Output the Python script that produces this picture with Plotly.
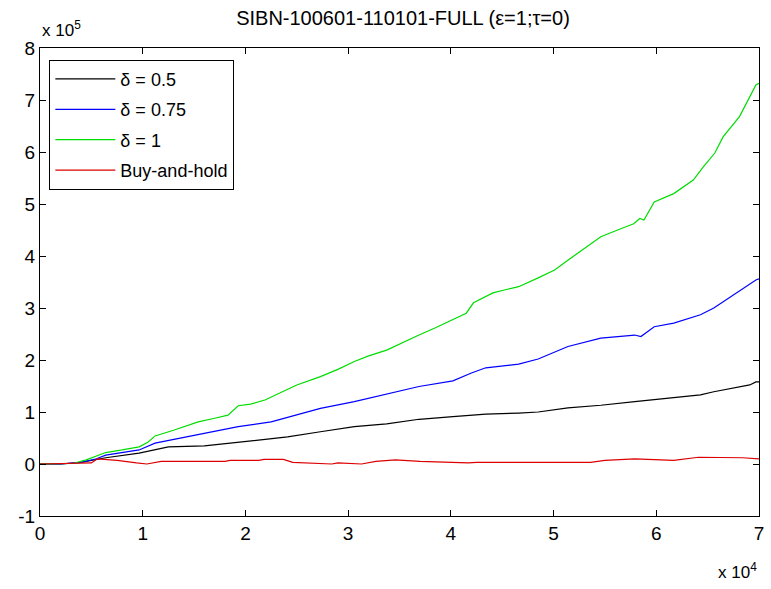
import plotly.graph_objects as go

# x in units of 1e4, y in units of 1e5
green_x = [0, 0.2, 0.32, 0.45, 0.55, 0.64, 0.8, 0.965, 1.05, 1.12, 1.3, 1.54, 1.7, 1.83, 1.93, 2.05, 2.19,
           2.35, 2.5, 2.73, 2.9, 3.06, 3.2, 3.375, 3.55, 3.69, 3.85, 4.02, 4.15, 4.22, 4.41, 4.55, 4.66,
           4.85, 5.01, 5.14, 5.25, 5.33, 5.46, 5.66, 5.78, 5.84, 5.88, 5.98, 6.17, 6.36, 6.46, 6.57,
           6.65, 6.81, 6.91, 6.97, 7.0]
green_y = [0, 0, 0.01, 0.08, 0.15, 0.22, 0.27, 0.33, 0.42, 0.54, 0.65, 0.81, 0.88, 0.94, 1.12, 1.15, 1.23,
           1.38, 1.52, 1.68, 1.82, 1.97, 2.08, 2.19, 2.36, 2.48, 2.62, 2.77, 2.9, 3.1, 3.29, 3.36, 3.41,
           3.58, 3.73, 3.92, 4.08, 4.18, 4.37, 4.53, 4.62, 4.72, 4.69, 5.04, 5.2, 5.46, 5.72, 5.98,
           6.29, 6.68, 7.06, 7.29, 7.32]

blue_x = [0, 0.2, 0.4, 0.55, 0.64, 0.965, 1.12, 1.54, 1.93, 2.25, 2.5, 2.73, 3.06, 3.375, 3.69, 4.02,
          4.2, 4.34, 4.66, 4.85, 5.14, 5.46, 5.79, 5.85, 5.98, 6.17, 6.43, 6.56, 6.75, 6.88, 6.97, 7.0]
blue_y = [0, 0, 0.03, 0.1, 0.17, 0.27, 0.40, 0.56, 0.72, 0.81, 0.94, 1.07, 1.2, 1.35, 1.49, 1.6,
          1.75, 1.85, 1.92, 2.02, 2.26, 2.42, 2.48, 2.45, 2.64, 2.71, 2.87, 3.0, 3.25, 3.41, 3.54, 3.56]

black_x = [0, 0.2, 0.4, 0.64, 0.965, 1.25, 1.6, 1.93, 2.41, 2.73, 3.06, 3.375, 3.69, 4.02, 4.34, 4.66,
           4.85, 5.14, 5.46, 5.79, 5.95, 6.11, 6.43, 6.56, 6.75, 6.91, 6.97, 7.0]
black_y = [0, 0, 0.03, 0.12, 0.21, 0.33, 0.35, 0.42, 0.52, 0.62, 0.72, 0.77, 0.86, 0.91, 0.96, 0.98,
           1.0, 1.08, 1.13, 1.2, 1.23, 1.27, 1.33, 1.39, 1.46, 1.52, 1.58, 1.58]

red_x = [0, 0.23, 0.5, 0.56, 0.75, 0.94, 1.04, 1.18, 1.8, 1.85, 2.13, 2.18, 2.37, 2.46, 2.84, 2.9,
         3.13, 3.27, 3.46, 3.7, 4.17, 4.25, 5.36, 5.5, 5.79, 6.17, 6.41, 6.84, 7.0]
red_y = [0, 0.01, 0.02, 0.1, 0.07, 0.02, 0.0, 0.05, 0.05, 0.07, 0.07, 0.09, 0.09, 0.03, 0.0, 0.02,
         0.0, 0.05, 0.08, 0.05, 0.02, 0.03, 0.03, 0.07, 0.1, 0.07, 0.13, 0.12, 0.1]

x_ticks = [0, 1, 2, 3, 4, 5, 6, 7]
y_ticks = [-1, 0, 1, 2, 3, 4, 5, 6, 7, 8]

XS, YS = 1e4, 1e5

series = [
    ("δ = 0.5", black_x, black_y, "#000000"),
    ("δ = 0.75", blue_x, blue_y, "#0000ff"),
    ("δ = 1", green_x, green_y, "#00dd00"),
    ("Buy-and-hold", red_x, red_y, "#dd0000"),
]

fig = go.Figure()
for i, (name, xs, ys, col) in enumerate(series):
    fig.add_trace(go.Scatter(
        x=[v * XS for v in xs], y=[v * YS for v in ys], mode="lines", name=name,
        legendgroup=f"g{i}",
        line=dict(color=col, width=1.2, shape="linear"),
    ))

font = "Liberation Sans, Arial, sans-serif"
fig.update_layout(
    width=771, height=589,
    margin=dict(l=40, r=7, t=48, b=73),
    paper_bgcolor="white", plot_bgcolor="white",
    font=dict(family=font, size=17, color="black"),
    title=dict(text="SIBN-100601-110101-FULL (ε=1;τ=0)", x=403 / 771, xanchor="center",
               y=1 - 18 / 589, yanchor="middle", font=dict(size=20)),
    showlegend=True,
    legend=dict(x=0.013, y=0.975, xanchor="left", yanchor="top", bordercolor="black",
                borderwidth=1, bgcolor="white", font=dict(size=18), tracegroupgap=4,
                traceorder="grouped", itemwidth=60),
    xaxis=dict(range=[0, 7 * XS], tickvals=[v * XS for v in x_ticks], ticktext=[str(v) for v in x_ticks],
               ticks="inside", ticklen=6, tickcolor="black", showline=True, linecolor="black",
               linewidth=1, mirror="allticks", showgrid=False, zeroline=False,
               tickfont=dict(size=19)),
    yaxis=dict(range=[-1 * YS, 8 * YS], tickvals=[v * YS for v in y_ticks], ticktext=[str(v) for v in y_ticks],
               ticks="inside", ticklen=6, tickcolor="black", showline=True, linecolor="black",
               linewidth=1, mirror="allticks", showgrid=False, zeroline=False,
               tickfont=dict(size=19)),
    annotations=[
        dict(text="x 10<sup>5</sup>", xref="paper", yref="paper", x=0, y=1, xanchor="left",
             yanchor="bottom", yshift=6, showarrow=False, font=dict(size=17)),
        dict(text="x 10<sup>4</sup>", xref="paper", yref="paper", x=1, y=0, xanchor="right",
             yanchor="top", yshift=-42, showarrow=False, font=dict(size=17)),
    ],
)

fig.write_html("out.html")
